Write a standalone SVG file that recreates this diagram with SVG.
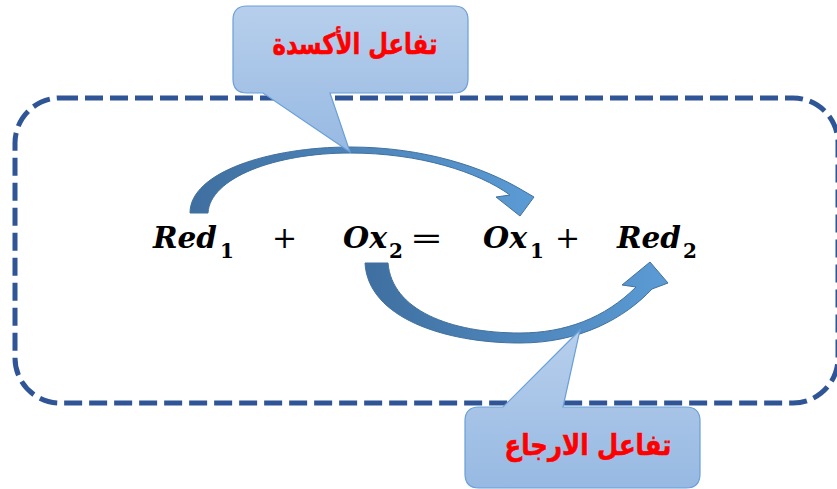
<svg xmlns="http://www.w3.org/2000/svg" width="837" height="489" viewBox="0 0 837 489">
<defs>
<linearGradient id="callG" x1="0" y1="0" x2="0" y2="1">
<stop offset="0" stop-color="#B7CFEC"/>
<stop offset="1" stop-color="#97B9E2"/>
</linearGradient>
<linearGradient id="arrG" x1="0" y1="0" x2="1" y2="0">
<stop offset="0" stop-color="#3F6FA0"/>
<stop offset="1" stop-color="#5B9BD5"/>
</linearGradient>
<style>
.frame{fill:none;stroke:#2F5597;stroke-width:5;stroke-dasharray:18 7}
.call{fill:url(#callG);stroke:#6A9FD8;stroke-width:1.2}
.arr{fill:url(#arrG);stroke:#41719C;stroke-width:1}
.ar{font-family:"DejaVu Sans",sans-serif;font-weight:bold;font-size:29px;fill:#FF0000;stroke:#FF0000;stroke-width:0.6;text-anchor:middle}
.v{font-family:"DejaVu Serif",serif;font-weight:bold;font-style:italic;font-size:30px;fill:#000}
.s{font-family:"DejaVu Serif",serif;font-weight:bold;font-size:20px;fill:#000}
.o{font-family:"DejaVu Serif",serif;font-size:30px;fill:#000}
</style>
</defs>
<g id="frame">
<rect class="frame" x="15" y="98" width="823" height="305" rx="45" ry="45"/>
</g>
<g id="connectors">
<path class="arr" d="M190,213 C190,172 270,147 350,147 C425,147 485,168 522,190 L534,197 L520,216 L496,197 L510,195 C478,172 420,153 350,153 C275,153 210,178 208,213 Z"/>
<path class="arr" d="M365,263 C368,318 445,343 520,343 C580,343 625,318 652,289 L668,283 L650,262 L622,285 L636,287 C605,318 565,333 520,333 C450,333 392,310 388,263 Z"/>
</g>
<g id="equation">
<text class="v" x="153" y="248" textLength="64" lengthAdjust="spacingAndGlyphs">Red</text>
<text class="s" x="220" y="258">1</text>
<text class="o" x="272" y="248">+</text>
<text class="v" x="343" y="248">Ox</text>
<text class="s" x="389" y="258">2</text>
<text class="o" x="410" y="248" textLength="33" lengthAdjust="spacingAndGlyphs">=</text>
<text class="v" x="483" y="248">Ox</text>
<text class="s" x="530" y="258">1</text>
<text class="o" x="555" y="248">+</text>
<text class="v" x="617" y="248" textLength="64" lengthAdjust="spacingAndGlyphs">Red</text>
<text class="s" x="683" y="258">2</text>
</g>
<g id="callout-oxidation">
<path class="call" d="M247,6 H454 Q468,6 468,20 V79 Q468,93 454,93 H330 L350,152 L263,93 H247 Q233,93 233,79 V20 Q233,6 247,6 Z"/>
<text class="ar" x="355" y="54" direction="rtl" textLength="165" lengthAdjust="spacingAndGlyphs">تفاعل الأكسدة</text>
</g>
<g id="callout-reduction">
<path class="call" d="M479,407 H503 L580,330 L563,407 H686 Q700,407 700,421 V474 Q700,488 686,488 H479 Q465,488 465,474 V421 Q465,407 479,407 Z"/>
<text class="ar" x="588" y="455" direction="rtl" textLength="167" lengthAdjust="spacingAndGlyphs">تفاعل الارجاع</text>
</g>
</svg>
